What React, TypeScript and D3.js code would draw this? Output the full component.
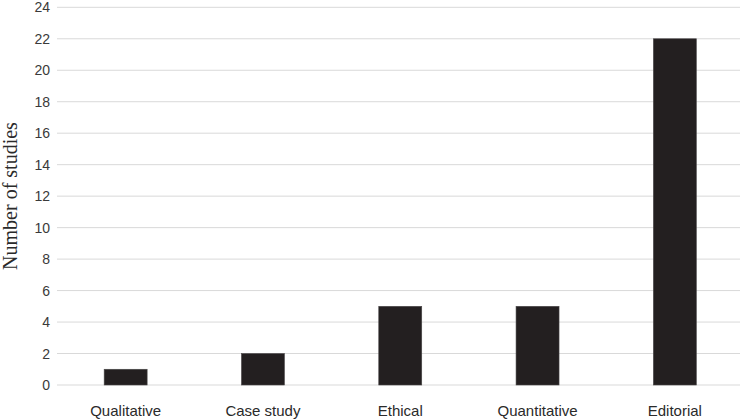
import React from "react";
import * as d3 from "d3";

const categories = ["Qualitative", "Case study", "Ethical", "Quantitative", "Editorial"];
const values = [1, 2, 5, 5, 22];
const yTicks = [0, 2, 4, 6, 8, 10, 12, 14, 16, 18, 20, 22, 24];

export default function App() {
  const W = 743, H = 419;
  const left = 57, right = 743.5, top = 7.3, bottom = 385;
  const x = d3.scaleBand<string>().domain(categories).range([left, right]).paddingInner(0.687).paddingOuter(0.3435);
  const y = d3.scaleLinear().domain([0, 24]).range([bottom, top]);
  return (
    <svg width={W} height={H} style={{ position: "absolute", left: 0, top: 0 }}>
      <rect width={W} height={H} fill="#fff" />
      {yTicks.map((t) => (
        <g key={t}>
          <line x1={left} x2={740} y1={y(t)} y2={y(t)} stroke="#d9d9d9" strokeWidth={1} />
          <text x={50} y={y(t)} dy="0.36em" textAnchor="end" fontFamily="Liberation Sans, Arial, sans-serif" fontSize={14} fill="#3a3a3a">{t}</text>
        </g>
      ))}
      {categories.map((c, i) => (
        <g key={c}>
          <rect x={x(c)} y={y(values[i])} width={x.bandwidth()} height={y(0) - y(values[i])} fill="#231f20" stroke="#4a4748" strokeWidth={0.6} />
          <text x={(x(c) as number) + x.bandwidth() / 2} y={416} textAnchor="middle" fontFamily="Liberation Sans, Arial, sans-serif" fontSize={15} fill="#2a2a2a">{c}</text>
        </g>
      ))}
      <text transform={`translate(16.5, 196) rotate(-90)`} textAnchor="middle" fontFamily="Liberation Serif, Times New Roman, serif" fontSize={20} fill="#2a2a2a">Number of studies</text>
    </svg>
  );
}
